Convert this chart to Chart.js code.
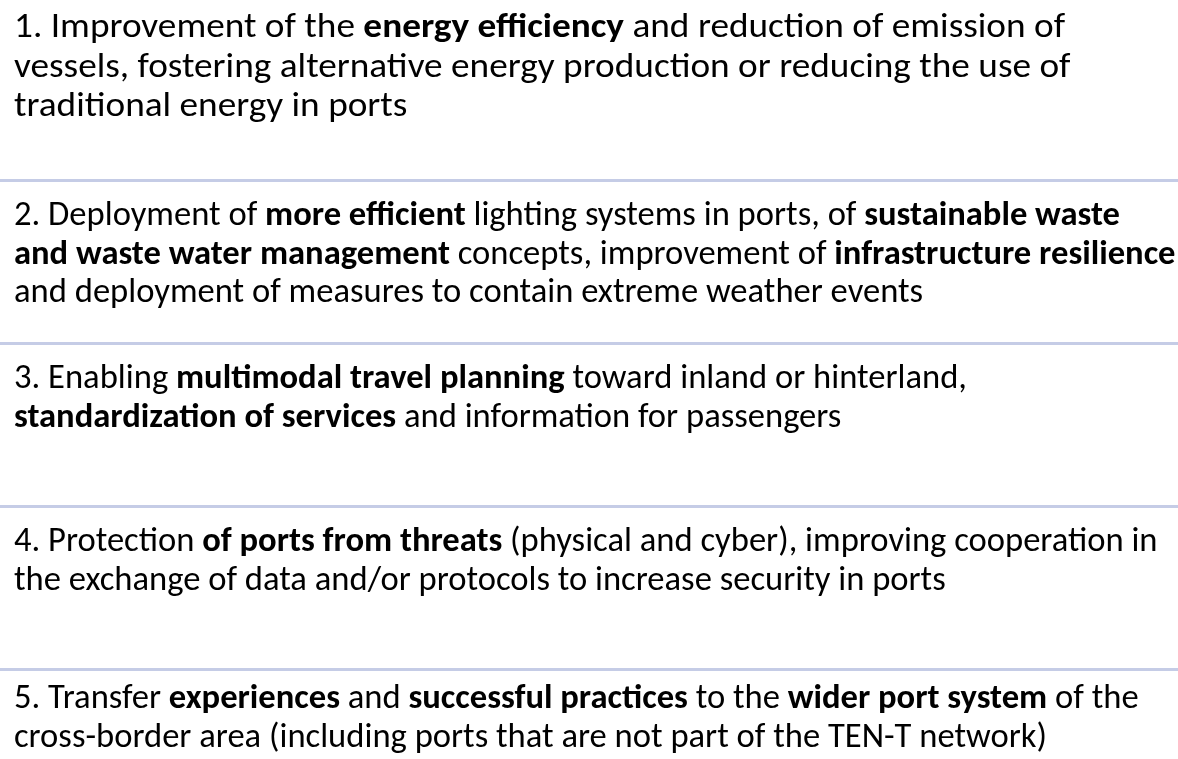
<!DOCTYPE html>
<html>
<head>
<meta charset="utf-8">
<script src="https://cdn.jsdelivr.net/npm/chart.js@4"></script>
<style>
  html, body { margin: 0; padding: 0; background: #fff; width: 1178px; height: 759px; overflow: hidden; }
  #wrap { position: absolute; left: 0; top: 0; width: 1178px; height: 832px; }
</style>
</head>
<body>
<div id="wrap"><canvas id="chart"></canvas></div>
<script>
// one row per item, each line is a list of [text, bold] parts
const categories = ['1', '2', '3', '4', '5'];

const item1 = [
    [['1. Improvement of the ', false], ['energy efficiency', true], [' and reduction of emission of', false]],
    [['vessels, fostering alternative energy production or reducing the use of', false]],
    [['traditional energy in ports', false]]
];
const item2 = [
    [['2. Deployment of ', false], ['more efficient', true], [' lighting systems in ports, of ', false], ['sustainable waste', true]],
    [['and waste water management', true], [' concepts, improvement of ', false], ['infrastructure resilience', true]],
    [['and deployment of measures to contain extreme weather events', false]]
];
const item3 = [
    [['3. Enabling ', false], ['multimodal travel planning', true], [' toward inland or hinterland,', false]],
    [['standardization of services', true], [' and information for passengers', false]]
];
const item4 = [
    [['4. Protection ', false], ['of ports from threats', true], [' (physical and cyber), improving cooperation in', false]],
    [['the exchange of data and/or protocols to increase security in ports', false]]
];
const item5 = [
    [['5. Transfer ', false], ['experiences', true], [' and ', false], ['successful practices', true], [' to the ', false], ['wider port system', true], [' of the', false]],
    [['cross-border area (including ports that are not part of the TEN-T network)', false]]
];
const items = [item1, item2, item3, item4, item5];

const FONT = 'Carlito, Lato, sans-serif';
const FONT_SIZE = 34.6;
const stretch = [1.078, 1, 1, 1, 1];
const lineHeight = [39.5, 38.5, 38.5, 38.5, 38.5];
const firstBaseline = [20, 45, 45, 45, 39];

const textPlugin = {
    id: 'rowText',
    afterDraw(chart) {
        const ctx = chart.ctx;
        const y = chart.scales.y;
        const band = y.height / categories.length;
        ctx.save();
        ctx.fillStyle = '#000';
        ctx.textBaseline = 'alphabetic';
        items.forEach((lines, i) => {
            const top = y.getPixelForValue(i) - band / 2;
            lines.forEach((parts, j) => {
                ctx.save();
                ctx.translate(14, top + firstBaseline[i] + j * lineHeight[i]);
                ctx.scale(stretch[i], 1);
                let x = 0;
                parts.forEach(([text, bold]) => {
                    ctx.font = (bold ? 'bold ' : '') + FONT_SIZE + 'px ' + FONT;
                    ctx.fillText(text, x, 0);
                    x += ctx.measureText(text).width;
                });
                ctx.restore();
            });
        });
        ctx.restore();
    }
};

new Chart(document.getElementById('chart'), {
    type: 'bar',
    data: {
        labels: categories,
        datasets: [{ data: categories.map(() => 0), backgroundColor: 'transparent' }]
    },
    options: {
        indexAxis: 'y',
        responsive: true,
        maintainAspectRatio: false,
        animation: false,
        layout: { padding: { top: 17 } },
        plugins: { legend: { display: false }, tooltip: { enabled: false } },
        scales: {
            x: { display: false },
            y: {
                offset: true,
                border: { display: false },
                ticks: { display: false },
                grid: {
                    offset: true,
                    drawTicks: false,
                    lineWidth: 3,
                    // hide the outer edges, keep the separators between rows
                    color: c => (c.index === 0 || c.tick === undefined) ? 'rgba(0,0,0,0)' : '#c5cce6'
                }
            }
        }
    },
    plugins: [textPlugin]
});
</script>
</body>
</html>
